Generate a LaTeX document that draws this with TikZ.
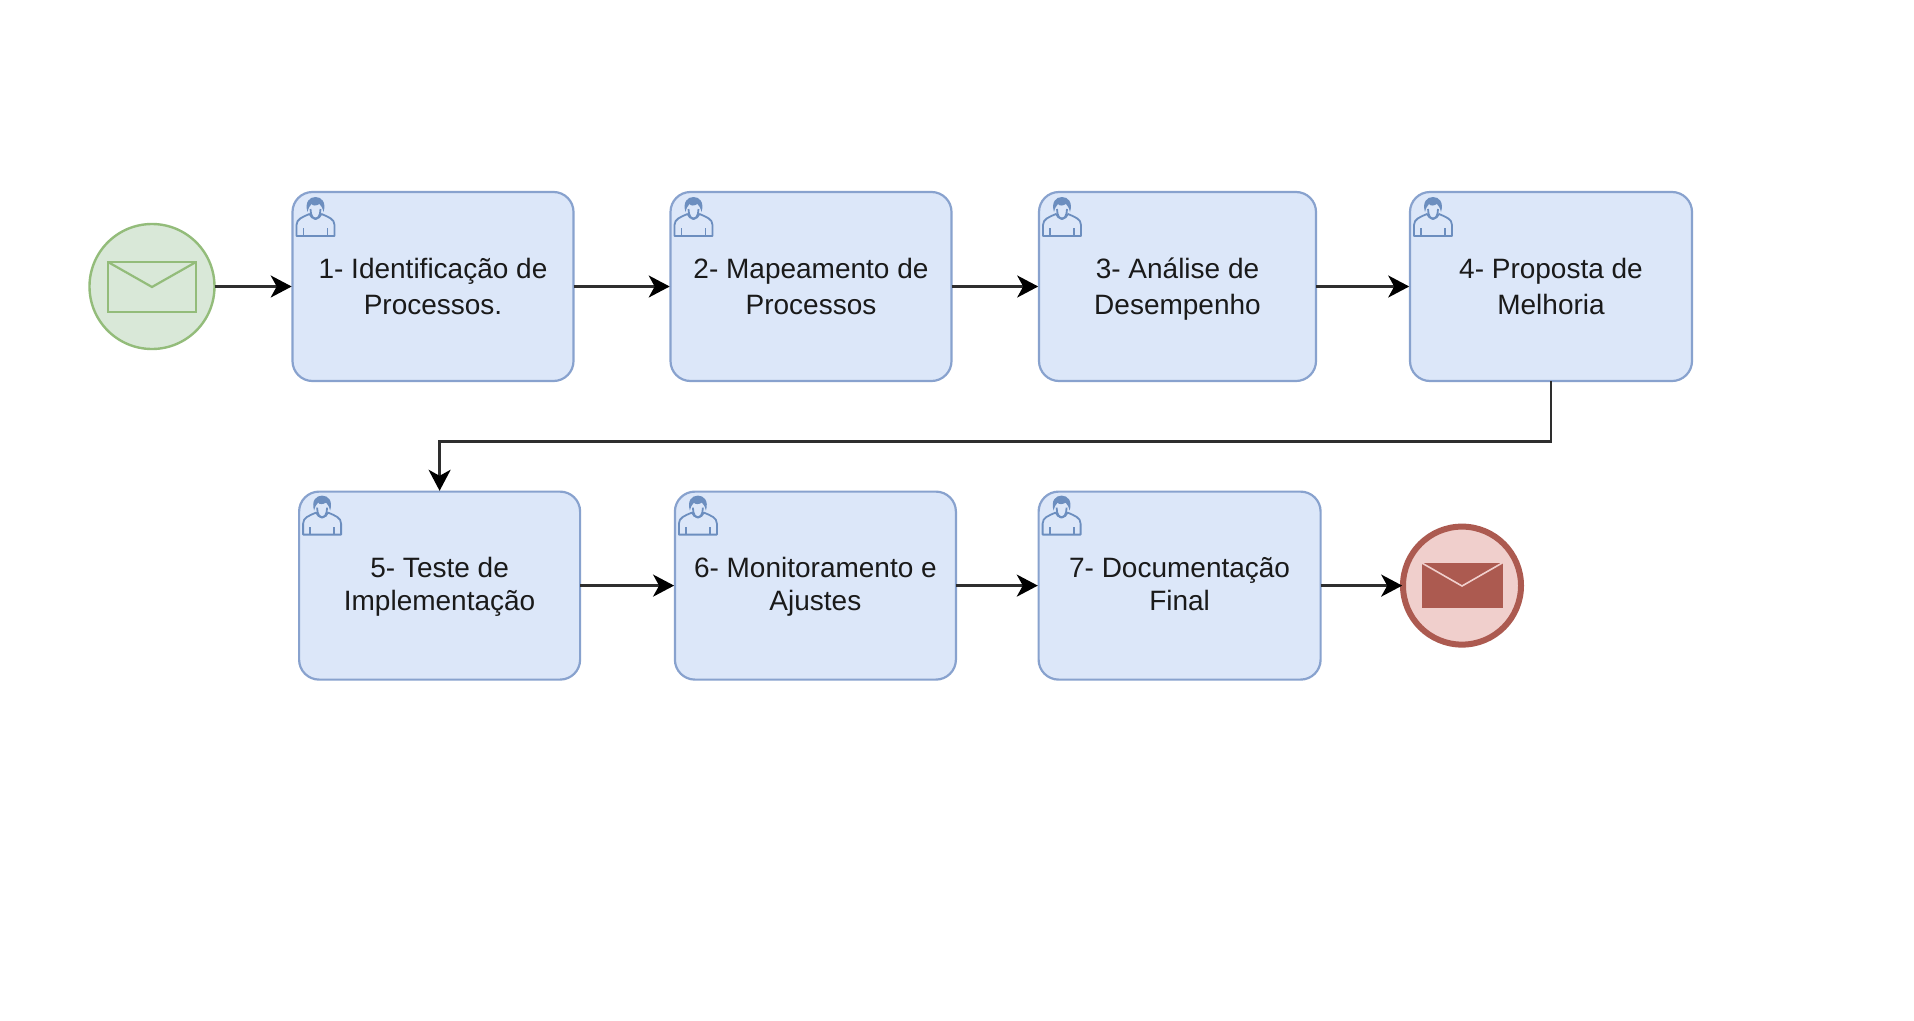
\documentclass[tikz,border=0pt]{standalone}
\usepackage{fontspec}
\setmainfont{Liberation Sans}
\usetikzlibrary{arrows.meta}
\definecolor{bfill}{HTML}{DCE7F9}
\definecolor{bline}{HTML}{88A2CE}
\definecolor{bdark}{HTML}{6C8EBF}
\definecolor{gfill}{HTML}{D9E8D8}
\definecolor{gline}{HTML}{93BC7A}
\definecolor{rfill}{HTML}{F0CFCC}
\definecolor{rline}{HTML}{AC5A50}
\definecolor{ink}{HTML}{1A1A1A}
\definecolor{shaft}{HTML}{2E2E2E}
\newcommand{\lineA}{\rule{0pt}{30pt}}
\newcommand{\lineZ}{\rule[-10.4pt]{0pt}{10.4pt}}
\newcommand{\lineY}{\rule[-13pt]{0pt}{13pt}}
\tikzset{
  x=1pt,y=-1pt,
  task/.style={draw=bline,fill=bfill,line width=2.2pt,rounded corners=20pt,minimum height=189pt,outer sep=0pt,inner sep=0pt,align=center,text=ink,font=\fontsize{28}{36.6}\selectfont},
  task2/.style={task,minimum height=188pt,font=\fontsize{28}{33.6}\selectfont},
  flow/.style={draw=shaft,line width=2.6pt,shorten >=0.8pt,-{Stealth[length=21pt,width=22pt,inset=6pt,color=black]}},
  person/.pic={
    \begin{scope}[draw=bdark,line width=1.8pt,line join=round]
      \draw (0,39) -- (0,28) .. controls (0,22) and (6,20) .. (13,17)
            .. controls (15,23) and (23,23) .. (25,17)
            .. controls (32,20) and (38,22) .. (38,28) -- (38,39) -- cycle;
      \draw (7,39) -- (7,31) (31,39) -- (31,31);
      \draw (14,12) .. controls (14,19) and (17,22) .. (19,22) .. controls (21,22) and (24,19) .. (24,12);
      \fill[bdark] (11,15) .. controls (8,5) and (13,0) .. (19,0) .. controls (25,0) and (30,5) .. (27,15)
            .. controls (26,11) and (25,9) .. (23,7) .. controls (20,9) and (16,9) .. (15,7) .. controls (13,9) and (12,11) .. (11,15) -- cycle;
    \end{scope}
  },
}
\begin{document}
\begin{tikzpicture}
\useasboundingbox (0,0) rectangle (1914,1020);
\fill[white] (0,0) rectangle (1914,1020);

% start event
\node[circle,draw=gline,fill=gfill,line width=2.4pt,minimum size=125pt,inner sep=0pt,outer sep=0pt] (start) at (152,286.5) {};
\node[draw=gline,line width=2.2pt,minimum width=88pt,minimum height=50pt,inner sep=0pt,outer sep=0pt] (envS) at (152,287) {};
\coordinate (envStip) at (152,287);
\draw[gline,line width=2.2pt] (envS.north west) -- (envStip) -- (envS.north east);

% first row
\node[task,minimum width=281pt] (b1) at (433,286.5) {\lineA 1- Identificação de\\Processos.\lineZ};
\node[task,minimum width=281pt] (b2) at (811,286.5) {\lineA 2- Mapeamento de\\Processos\lineZ};
\node[task,minimum width=277pt] (b3) at (1177.5,286.5) {\lineA 3- Análise de\\Desempenho\lineZ};
\node[task,minimum width=282pt] (b4) at (1551,286.5) {\lineA 4- Proposta de\\Melhoria\lineZ};

% second row
\node[task2,minimum width=281pt] (b5) at (439.6,585.6) {\lineA 5- Teste de\\Implementação\lineY};
\node[task2,minimum width=281pt] (b6) at (815.4,585.6) {\lineA 6- Monitoramento e\\Ajustes\lineY};
\node[task2,minimum width=282pt] (b7) at (1179.6,585.6) {\lineA 7- Documentação\\Final\lineY};

% end event
\node[circle,draw=rline,fill=rfill,line width=6pt,minimum size=118pt,inner sep=0pt,outer sep=0pt] (end) at (1462,585.6) {};
\node[fill=rline,minimum width=81pt,minimum height=45pt,inner sep=0pt,outer sep=0pt] (envE) at (1462,585.3) {};
\coordinate (envEtip) at (1462,586);
\draw[rfill,line width=1.6pt] (envE.north west) -- (envEtip) -- (envE.north east);

% user icons
\pic at ([shift={(4,5)}]b1.north west) {person};
\pic at ([shift={(4,5)}]b2.north west) {person};
\pic at ([shift={(4,5)}]b3.north west) {person};
\pic at ([shift={(4,5)}]b4.north west) {person};
\pic at ([shift={(4,4)}]b5.north west) {person};
\pic at ([shift={(4,4)}]b6.north west) {person};
\pic at ([shift={(4,4)}]b7.north west) {person};

% connectors
\coordinate (bend) at (439.6,441.6);
\draw[flow] (start) -- (b1);
\draw[flow] (b1) -- (b2);
\draw[flow] (b2) -- (b3);
\draw[flow] (b3) -- (b4);
\draw[flow] (b4.south) |- (bend) -- (b5.north);
\draw[flow] (b5) -- (b6);
\draw[flow] (b6) -- (b7);
\draw[flow] (b7) -- (end);
\end{tikzpicture}
\end{document}
